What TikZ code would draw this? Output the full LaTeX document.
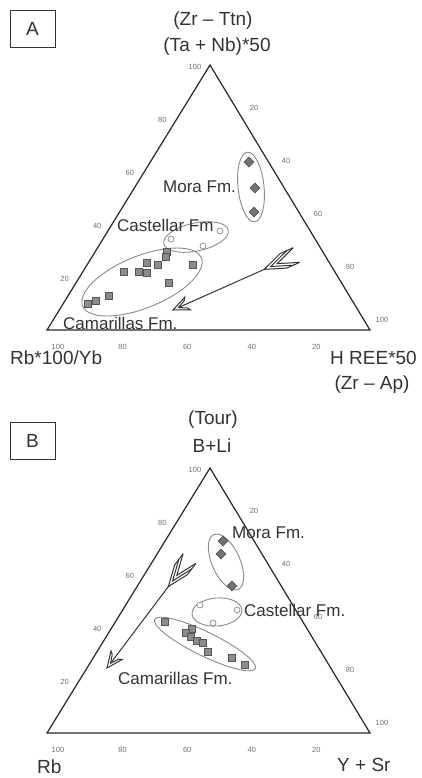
\documentclass[tikz,border=0pt]{standalone}
\usepackage{fontspec}
\setmainfont{Liberation Sans}
\usetikzlibrary{shapes.geometric,calc}

\definecolor{inkgray}{HTML}{333333}
\definecolor{markgray}{HTML}{8C8C8C}
\definecolor{edgegray}{HTML}{555555}
\definecolor{loopgray}{HTML}{8A8A8A}
\definecolor{tickgray}{HTML}{707070}

\tikzset{
  axisline/.style={draw=black!85, line width=1.2pt, line join=miter},
  ticklbl/.style={text=tickgray, font=\fontsize{7.5}{9}\selectfont, inner sep=0pt},
  apexlbl/.style={text=inkgray, font=\fontsize{19}{22}\selectfont, inner sep=0pt},
  fmlbl/.style={text=inkgray, font=\fontsize{17}{20}\selectfont, inner sep=0pt, anchor=west},
  panelbox/.style={draw=inkgray, line width=0.9pt, minimum width=45pt, minimum height=37pt,
    text=inkgray, font=\fontsize{19}{22}\selectfont},
  envelope/.style={draw=loopgray, line width=0.9pt},
  sqmark/.style={rectangle, draw=edgegray, fill=markgray, line width=0.6pt, minimum size=7.5pt, inner sep=0pt},
  diamark/.style={diamond, draw=edgegray, fill=black!55, line width=0.6pt, minimum size=10pt, inner sep=0pt},
  circmark/.style={circle, draw=loopgray, fill=white, line width=0.7pt, minimum size=6pt, inner sep=0pt},
  arrowline/.style={draw=inkgray, line width=1pt, line join=miter},
}

% triangle frame with its tick numbers; #1 panel, #2 vertical offset
\newcommand{\ternframe}[2]{%
  \coordinate (#1top) at (210,{65+#2});
  \coordinate (#1left) at (47,{330+#2});
  \coordinate (#1right) at (370,{330+#2});
  \draw[axisline] (#1top) -- (#1left) -- (#1right) -- cycle;
  \foreach \v [count=\i] in {100,80,60,40,20} {
    \pgfmathsetmacro\f{(\i-1)/5}
    \node[ticklbl] (#1l\i) at ($(#1top)!\f!(#1left)+(-15,1.5)$) {\v};
    \node[ticklbl] (#1b\i) at ($(#1left)!\f!(#1right)+(11,17)$) {\v};
  }
  \foreach \v [count=\i] in {20,40,60,80,100} {
    \pgfmathsetmacro\f{\i/5}
    \node[ticklbl] (#1r\i) at ($(#1top)!\f!(#1right)+(12,-10)$) {\v};
  }
}

% trend arrow: #1 name, #2 tip, #3 angle, #4 shaft length
\newcommand{\featherarrow}[4]{%
  \begin{scope}[shift={#2}, rotate=#3]
    \coordinate (#1tip) at (0,0);
    \coordinate (#1neck) at (6,0);
    \coordinate (#1tail) at (#4,0);
    \draw[arrowline] (#1tip) -- (16,7) -- (14,4) -- (#1neck) -- (14,-4) -- (16,-7) -- cycle;
    \draw[arrowline] (#1neck) -- (#1tail);
    % feathers
    \foreach \d in {0,7,14}
      \draw[arrowline] ({#4+\d+21},8) -- ({#4+\d},0) -- ({#4+\d+21},-8);
    \draw[arrowline] ({#4+21},8) -- ({#4+35},8);
    \draw[arrowline] ({#4+21},-8) -- ({#4+35},-8);
  \end{scope}}

\begin{document}
\begin{tikzpicture}[x=1pt, y=-1pt]
  \useasboundingbox (0,0) rectangle (421,778);

  % panel A
  \node[panelbox] (boxA) at (32.5,28.5) {A};
  \node[apexlbl] (topA1) at (213,21) {(Zr -- Ttn)};
  \node[apexlbl] (topA2) at (217,47) {(Ta + Nb)*50};
  \node[apexlbl, anchor=west] (leftA) at (10,358) {Rb*100/Yb};
  \node[apexlbl, anchor=east] (rightA1) at (417,358) {H REE*50};
  \node[apexlbl] (rightA2) at (372,385) {(Zr -- Ap)};
  \ternframe{A}{0}

  \draw[envelope, rotate around={6:(251,187)}] (251,187) ellipse [x radius=13, y radius=35];
  \draw[envelope, rotate around={12:(196,237)}] (196,237) ellipse [x radius=33, y radius=14];
  \draw[envelope, rotate around={22:(142,282)}] (142,282) ellipse [x radius=64, y radius=26];

  \node[fmlbl] (moraA) at (163,187) {Mora Fm.};
  \node[fmlbl] (castA) at (117,225) {Castellar Fm};
  \node[fmlbl] (camaA) at (63,323) {Camarillas Fm.};

  \foreach \p [count=\i] in {(249,162),(255,188),(254,212)}
    \node[diamark] (dA\i) at \p {};
  \foreach \p [count=\i] in {(220,231),(171,239),(203,246)}
    \node[circmark] (cA\i) at \p {};
  \foreach \p [count=\i] in {(167,252),(166,257),(147,263),(158,265),(193,265),(124,272),
      (139,272),(147,273),(169,283),(109,296),(96,301),(88,304)}
    \node[sqmark] (sA\i) at \p {};

  \featherarrow{arrA}{(173,310)}{24}{100}

  % panel B
  \node[panelbox] (boxB) at (32.5,440.5) {B};
  \node[apexlbl] (topB1) at (213,420) {(Tour)};
  \node[apexlbl] (topB2) at (212,446) {B+Li};
  \node[apexlbl, anchor=west] (leftB) at (37,767) {Rb};
  \node[apexlbl, anchor=west] (rightB) at (337,765) {Y + Sr};
  \ternframe{B}{403}

  \draw[envelope, rotate around={24:(226,562)}] (226,562) ellipse [x radius=14, y radius=30];
  \draw[envelope, rotate around={5:(217,612)}] (217,612) ellipse [x radius=25, y radius=14];
  \draw[envelope, rotate around={-26:(205,644)}] (205,644) ellipse [x radius=56, y radius=12];

  \node[fmlbl] (moraB) at (232,533) {Mora Fm.};
  \node[fmlbl] (castB) at (244,610) {Castellar Fm.};
  \node[fmlbl] (camaB) at (118,678) {Camarillas Fm.};

  \foreach \p [count=\i] in {(223,541),(221,554),(232,586)}
    \node[diamark] (dB\i) at \p {};
  \foreach \p [count=\i] in {(200,605),(237,610),(213,623)}
    \node[circmark] (cB\i) at \p {};
  \foreach \p [count=\i] in {(165,622),(192,629),(186,633),(191,637),(197,641),(203,643),
      (208,652),(232,658),(245,665)}
    \node[sqmark] (sB\i) at \p {};

  \featherarrow{arrB}{(107,668)}{53}{102}
\end{tikzpicture}
\end{document}
